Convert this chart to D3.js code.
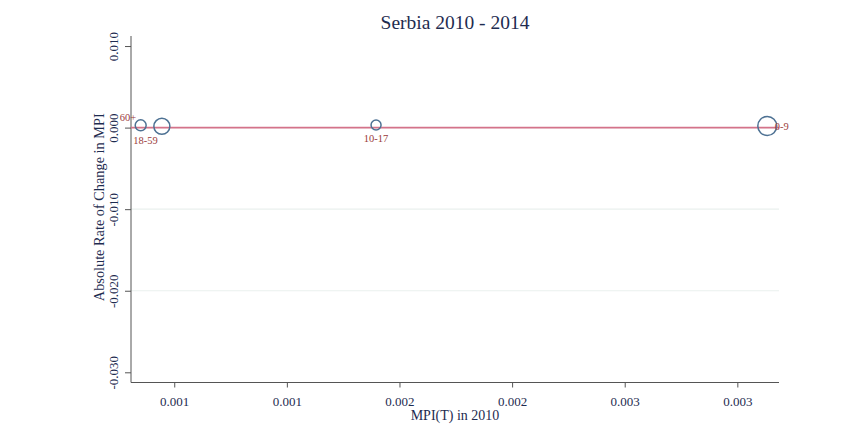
<!DOCTYPE html>
<html lang="en">
<head>
  <meta charset="utf-8">
  <title>Serbia 2010 - 2014</title>
  <script src="https://d3js.org/d3.v7.min.js"></script>
  <style>
    body { margin: 0; background: #fff; }
    svg text { font-family: "Liberation Serif", "Times New Roman", serif; fill: #1e2c50; }
  </style>
</head>
<body>
<svg id="chart" width="866" height="432"></svg>

<script>
// age groups and their values
var groups = ["60+", "18-59", "10-17", "0-9"];
var mpi2010 = [0.000851, 0.000945, 0.001896, 0.003633];
var changeRate = [0.00028, 0.00016, 0.00032, 0.0002];
var weights = [30, 64, 25, 90];
var labelClock = [11, 7, 6, 3];

var xTicks = [0.0010, 0.0015, 0.0020, 0.0025, 0.0030, 0.0035];
var xTickLabels = ["0.001", "0.001", "0.002", "0.002", "0.003", "0.003"];
var yTicks = [0.010, 0.000, -0.010, -0.020, -0.030];
var yTickLabels = ["0.010", "0.000", "-0.010", "-0.020", "-0.030"];
var yGrid = [0.000, -0.010, -0.020];

var svg = d3.select("#chart");
var plotLeft = 131, plotRight = 779, plotTop = 36, plotBottom = 382.5;

var x = d3.scaleLinear().domain([0.000808, 0.003685]).range([plotLeft, plotRight]);
var y = d3.scaleLinear().domain([-0.03125, 0.01123]).range([plotBottom, plotTop]);
var r = d3.scaleSqrt().domain([0, 100]).range([0, 10]);

// title
svg.append("text")
  .attr("x", (plotLeft + plotRight) / 2).attr("y", 29)
  .attr("text-anchor", "middle")
  .style("font-size", "19.5px")
  .text("Serbia 2010 - 2014");

// grid lines
svg.selectAll("line.grid")
  .data(yGrid)
  .enter()
  .append("line")
  .attr("class", "grid")
  .attr("x1", plotLeft).attr("x2", plotRight)
  .attr("y1", function(d) { return y(d); })
  .attr("y2", function(d) { return y(d); })
  .attr("stroke", "#eaf0ee")
  .attr("stroke-width", 1.2);

// y axis
var yAxis = d3.axisLeft(y)
  .tickValues(yTicks)
  .tickSize(6)
  .tickFormat(function(d, i) { return yTickLabels[i]; });
var gy = svg.append("g").attr("transform", "translate(" + plotLeft + ",0)").call(yAxis);
gy.select(".domain").attr("d", "M0," + plotTop + "V" + plotBottom).attr("stroke", "#555");
gy.selectAll(".tick line").attr("stroke", "#555");
gy.selectAll(".tick text")
  .attr("x", 0).attr("y", 0).attr("dy", null)
  .attr("text-anchor", "middle")
  .attr("transform", "translate(-13,0) rotate(-90)")
  .style("font-size", "13px");

// x axis
var xAxis = d3.axisBottom(x)
  .tickValues(xTicks)
  .tickSize(5)
  .tickFormat(function(d, i) { return xTickLabels[i]; });
var gx = svg.append("g").attr("transform", "translate(0," + plotBottom + ")").call(xAxis);
gx.select(".domain").attr("d", "M" + plotLeft + ",0H" + plotRight).attr("stroke", "#555");
gx.selectAll(".tick line").attr("stroke", "#555");
gx.selectAll(".tick text")
  .attr("y", 14).attr("dy", "0.71em")
  .style("font-size", "13px");

// axis titles
svg.append("text")
  .attr("x", (plotLeft + plotRight) / 2).attr("y", 420)
  .attr("text-anchor", "middle")
  .style("font-size", "14px")
  .text("MPI(T) in 2010");

svg.append("text")
  .attr("transform", "translate(104," + ((plotTop + plotBottom) / 2 - 2) + ") rotate(-90)")
  .attr("text-anchor", "middle")
  .style("font-size", "14.3px")
  .text("Absolute Rate of Change in MPI");

// reference line at zero
svg.append("line")
  .attr("x1", plotLeft).attr("x2", plotRight)
  .attr("y1", y(0)).attr("y2", y(0))
  .attr("stroke", "#d4738a")
  .attr("stroke-width", 1.8);

// markers
svg.selectAll("circle.pt")
  .data(groups)
  .enter()
  .append("circle")
  .attr("class", "pt")
  .attr("cx", function(d, i) { return x(mpi2010[i]); })
  .attr("cy", function(d, i) { return y(changeRate[i]); })
  .attr("r", function(d, i) { return r(weights[i]); })
  .attr("fill", "none")
  .attr("stroke", "#4d7193")
  .attr("stroke-width", 1.5);

// marker labels placed by clock position
function labelPos(i) {
  var cx = x(mpi2010[i]), cy = y(changeRate[i]), rr = r(weights[i]);
  var c = labelClock[i];
  if (c == 3) return { x: cx + rr - 2, y: cy + 4, anchor: "start" };
  if (c == 6) return { x: cx, y: cy + rr + 12, anchor: "middle" };
  if (c == 7) return { x: cx - rr + 4, y: cy + rr + 10, anchor: "end" };
  return { x: cx - rr + 1, y: cy - rr + 1, anchor: "end" };
}

svg.selectAll("text.lab")
  .data(groups)
  .enter()
  .append("text")
  .attr("class", "lab")
  .attr("x", function(d, i) { return labelPos(i).x; })
  .attr("y", function(d, i) { return labelPos(i).y; })
  .attr("text-anchor", function(d, i) { return labelPos(i).anchor; })
  .style("font-size", "10.5px")
  .style("fill", "#9b3b3b")
  .text(function(d) { return d; });
</script>
</body>
</html>
